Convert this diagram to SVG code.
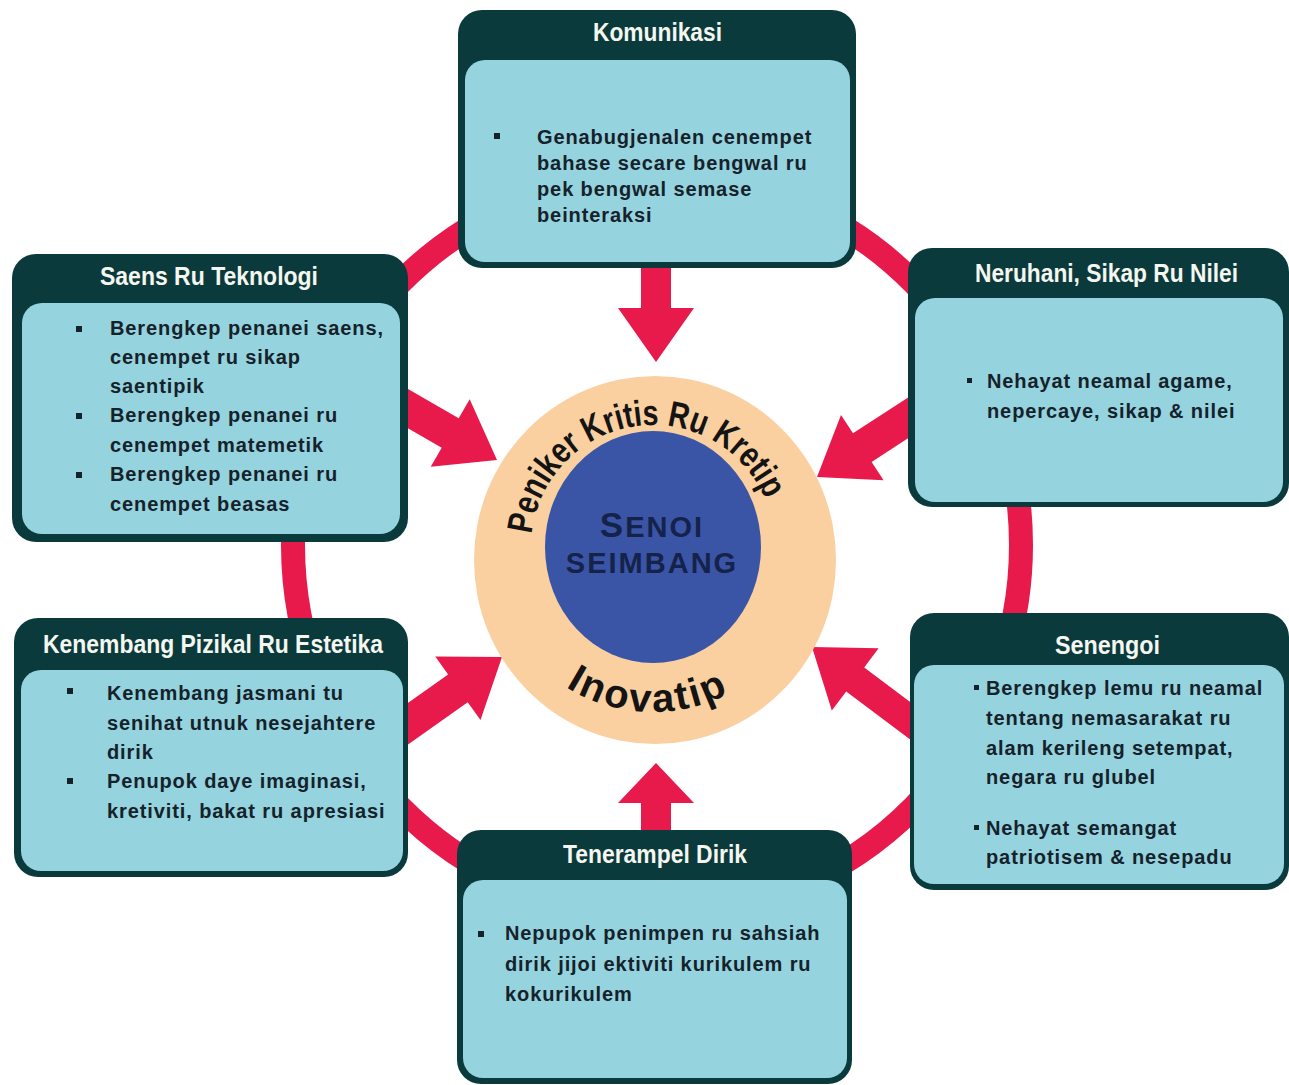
<svg xmlns="http://www.w3.org/2000/svg" width="1289" height="1085" viewBox="0 0 1289 1085">
<defs>
<style>
.bo{fill:#0b3a3c}
.bi{fill:#95d3df}
.ttl{font-family:"Liberation Sans",Arial,sans-serif;font-weight:bold;font-size:25px;fill:#f4f6ef}
.bd{font-family:"Liberation Sans",Arial,sans-serif;font-weight:bold;font-size:20px;fill:#15222a;letter-spacing:0.9px}
.bl{fill:#15222a}
.red{fill:#e8194b}
.ring{fill:none;stroke:#e8194b;stroke-width:24}
.arc{font-family:"Liberation Sans",Arial,sans-serif;font-weight:bold;fill:#141414}
.ctr{font-family:"Liberation Sans",Arial,sans-serif;font-weight:bold;fill:#15224a;text-anchor:middle;letter-spacing:2px}
</style>
<path id="arcTop" d="M531.7,534.2 A122,122 0 0,1 765.3,499.3"/>
<path id="arcBot" d="M565.6,686.9 A165,165 0 0,0 733,691.3"/>
</defs>
<rect width="1289" height="1085" fill="#ffffff"/>

<g id="connectors">
<ellipse class="ring" cx="657" cy="545" rx="364" ry="370"/>
<polygon class="red" points="641,250 671,250 671,308 694,308 656,362 618,308 641,308"/>
<polygon class="red" points="641,850 671,850 671,803 694,803 656,763 618,803 641,803"/>
<polygon class="red" points="372.4,407.7 389.4,378.3 458.7,418.3 469.7,399.2 497,460 430.7,466.8 441.7,447.7"/>
<polygon class="red" points="938.7,418.3 920.1,389.7 853,433.3 841,414.9 817,477 883.6,480.3 871.6,461.9"/>
<polygon class="red" points="402.4,748.5 382.8,720.7 448.1,674.4 435.3,656.5 502,657 480.5,720.1 467.7,702.2"/>
<polygon class="red" points="928.2,715.4 910.2,739.4 846.2,691.4 831.8,710.6 812,647 878.6,648.2 864.2,667.4"/>
</g>

<g id="center">
<ellipse cx="655" cy="560" rx="181" ry="184" fill="#fad0a0"/>
<ellipse cx="653" cy="547" rx="108" ry="116" fill="#3a55a6"/>
<text class="ctr" x="652" y="537"><tspan font-size="35">S</tspan><tspan font-size="29">ENOI</tspan></text>
<text class="ctr" x="652" y="573" font-size="29">SEIMBANG</text>
<text class="arc" font-size="36"><textPath href="#arcTop" textLength="321" lengthAdjust="spacingAndGlyphs">Peniker Kritis Ru Kretip</textPath></text>
<text class="arc" font-size="40"><textPath href="#arcBot" textLength="170" lengthAdjust="spacing">Inovatip</textPath></text>
</g>

<g id="komunikasi">
<rect class="bo" x="458" y="10" width="398" height="258" rx="24"/>
<rect class="bi" x="465" y="60" width="385" height="202" rx="20"/>
<text class="ttl" x="593" y="41" textLength="129" lengthAdjust="spacingAndGlyphs">Komunikasi</text>
<rect class="bl" x="494" y="133" width="6" height="6"/>
<text class="bd" x="537" y="144">Genabugjenalen cenempet</text>
<text class="bd" x="537" y="170">bahase secare bengwal ru</text>
<text class="bd" x="537" y="196">pek bengwal semase</text>
<text class="bd" x="537" y="222">beinteraksi</text>
</g>

<g id="saens">
<rect class="bo" x="12" y="254" width="396" height="288" rx="24"/>
<rect class="bi" x="22" y="303" width="378" height="231" rx="20"/>
<text class="ttl" x="100" y="285" textLength="218" lengthAdjust="spacingAndGlyphs">Saens Ru Teknologi</text>
<rect class="bl" x="76" y="326" width="6" height="6"/>
<text class="bd" x="110" y="335">Berengkep penanei saens,</text>
<text class="bd" x="110" y="364">cenempet ru sikap</text>
<text class="bd" x="110" y="393">saentipik</text>
<rect class="bl" x="76" y="413" width="6" height="6"/>
<text class="bd" x="110" y="422">Berengkep penanei ru</text>
<text class="bd" x="110" y="452">cenempet matemetik</text>
<rect class="bl" x="76" y="472" width="6" height="6"/>
<text class="bd" x="110" y="481">Berengkep penanei ru</text>
<text class="bd" x="110" y="511">cenempet beasas</text>
</g>

<g id="neruhani">
<rect class="bo" x="908" y="248" width="381" height="259" rx="24"/>
<rect class="bi" x="915" y="298" width="368" height="204" rx="20"/>
<text class="ttl" x="975" y="282" textLength="263" lengthAdjust="spacingAndGlyphs">Neruhani, Sikap Ru Nilei</text>
<rect class="bl" x="967" y="378" width="5" height="5"/>
<text class="bd" x="987" y="388">Nehayat neamal agame,</text>
<text class="bd" x="987" y="418">nepercaye, sikap &amp; nilei</text>
</g>

<g id="kenembang">
<rect class="bo" x="14" y="618" width="394" height="259" rx="24"/>
<rect class="bi" x="21" y="670" width="382" height="201" rx="20"/>
<text class="ttl" x="43" y="653" textLength="340" lengthAdjust="spacingAndGlyphs">Kenembang Pizikal Ru Estetika</text>
<rect class="bl" x="67" y="688" width="6" height="6"/>
<text class="bd" x="107" y="700">Kenembang jasmani tu</text>
<text class="bd" x="107" y="730">senihat utnuk nesejahtere</text>
<text class="bd" x="107" y="759">dirik</text>
<rect class="bl" x="67" y="778" width="6" height="6"/>
<text class="bd" x="107" y="788">Penupok daye imaginasi,</text>
<text class="bd" x="107" y="818">kretiviti, bakat ru apresiasi</text>
</g>

<g id="senengoi">
<rect class="bo" x="910" y="613" width="379" height="277" rx="24"/>
<rect class="bi" x="914" y="665" width="370" height="219" rx="20"/>
<text class="ttl" x="1055" y="654" textLength="105" lengthAdjust="spacingAndGlyphs">Senengoi</text>
<rect class="bl" x="974" y="685" width="5" height="5"/>
<text class="bd" x="986" y="695">Berengkep lemu ru neamal</text>
<text class="bd" x="986" y="725">tentang nemasarakat ru</text>
<text class="bd" x="986" y="755">alam kerileng setempat,</text>
<text class="bd" x="986" y="784">negara ru glubel</text>
<rect class="bl" x="974" y="825" width="5" height="5"/>
<text class="bd" x="986" y="835">Nehayat semangat</text>
<text class="bd" x="986" y="864">patriotisem &amp; nesepadu</text>
</g>

<g id="tenerampel">
<rect class="bo" x="457" y="830" width="395" height="254" rx="24"/>
<rect class="bi" x="463" y="880" width="384" height="198" rx="20"/>
<text class="ttl" x="563" y="863" textLength="184" lengthAdjust="spacingAndGlyphs">Tenerampel Dirik</text>
<rect class="bl" x="478" y="931" width="6" height="6"/>
<text class="bd" x="505" y="940">Nepupok penimpen ru sahsiah</text>
<text class="bd" x="505" y="971">dirik jijoi ektiviti kurikulem ru</text>
<text class="bd" x="505" y="1001">kokurikulem</text>
</g>
</svg>
